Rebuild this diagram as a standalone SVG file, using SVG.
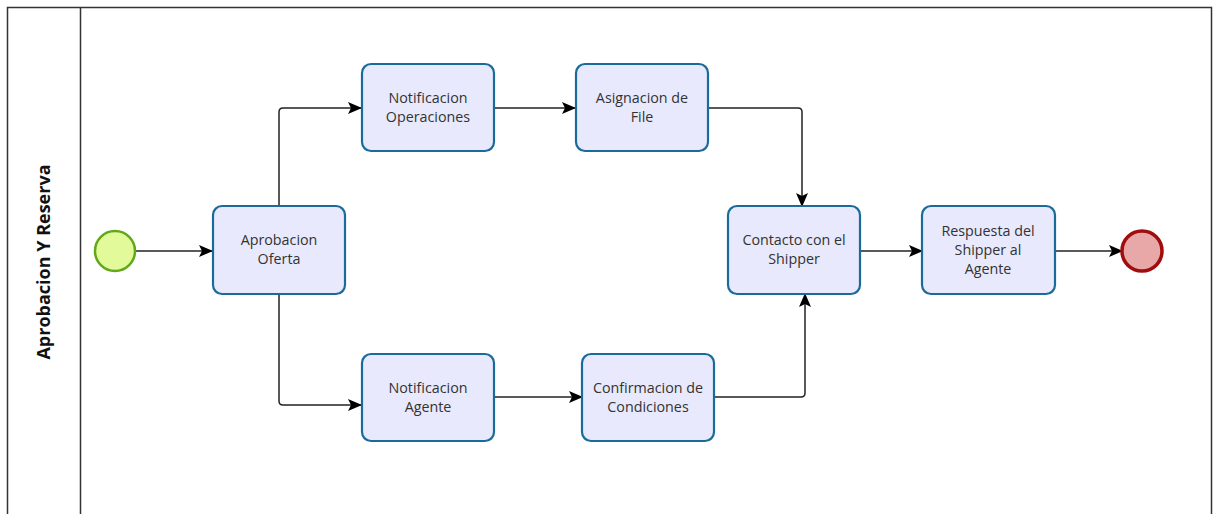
<svg xmlns="http://www.w3.org/2000/svg" width="1216" height="514" viewBox="0 0 1216 514">
  <style>
    .pool { fill: #ffffff; stroke: #333333; stroke-width: 1.5; }
    .task rect { fill: #e8e9fc; stroke: #1a6a9a; stroke-width: 2.2; }
    .task text { font-family: "Open Sans", "Noto Sans", sans-serif; font-size: 14.3px; fill: #333333; text-anchor: middle; }
    .flow { fill: none; stroke: #222222; stroke-width: 1.5; marker-end: url(#arrow); }
    .lane-label { font-family: "Open Sans", "Noto Sans", sans-serif; font-size: 18px; font-weight: bold; fill: #111111; text-anchor: middle; }
  </style>
  <defs>
    <marker id="arrow" viewBox="0 0 14 12" refX="13" refY="6" markerWidth="14" markerHeight="12" markerUnits="userSpaceOnUse" orient="auto">
      <path d="M0,0 L14,6 L0,12 L3,6 Z" fill="#000000"/>
    </marker>
  </defs>

  <!-- pool with lane header -->
  <g id="pool">
    <rect class="pool" x="7.5" y="7.5" width="1204" height="520"/>
    <line x1="80.5" y1="7.5" x2="80.5" y2="514" stroke="#333333" stroke-width="1.5"/>
    <text class="lane-label" transform="translate(50,262) rotate(-90)">Aprobacion Y Reserva</text>
  </g>

  <!-- sequence flows -->
  <g id="connectors">
    <path class="flow" d="M135,251 H212"/>
    <path class="flow" d="M279,206 V112 Q279,108 283,108 H361"/>
    <path class="flow" d="M279,294 V401 Q279,405 283,405 H361"/>
    <path class="flow" d="M494,108 H575"/>
    <path class="flow" d="M708,108 H798 Q802,108 802,112 V206"/>
    <path class="flow" d="M494,397 H582"/>
    <path class="flow" d="M714,397 H801 Q805,397 805,393 V294"/>
    <path class="flow" d="M860,251 H922"/>
    <path class="flow" d="M1055,251 H1122"/>
  </g>

  <g id="start">
    <circle cx="115" cy="251" r="20" fill="#e3fa9a" stroke="#62a81a" stroke-width="2.5"/>
  </g>

  <g id="aprobacion-oferta" class="task">
    <rect x="213" y="206" width="132" height="88" rx="9"/>
    <text x="279" y="245">Aprobacion</text>
    <text x="279" y="264">Oferta</text>
  </g>

  <g id="notificacion-operaciones" class="task">
    <rect x="362" y="64" width="132" height="87" rx="9"/>
    <text x="428" y="103">Notificacion</text>
    <text x="428" y="122">Operaciones</text>
  </g>

  <g id="asignacion-file" class="task">
    <rect x="576" y="64" width="132" height="87" rx="9"/>
    <text x="642" y="103">Asignacion de</text>
    <text x="642" y="122">File</text>
  </g>

  <g id="notificacion-agente" class="task">
    <rect x="362" y="354" width="132" height="87" rx="9"/>
    <text x="428" y="393">Notificacion</text>
    <text x="428" y="412">Agente</text>
  </g>

  <g id="confirmacion-condiciones" class="task">
    <rect x="582" y="354" width="132" height="87" rx="9"/>
    <text x="648" y="393">Confirmacion de</text>
    <text x="648" y="412">Condiciones</text>
  </g>

  <g id="contacto-shipper" class="task">
    <rect x="728" y="206" width="132" height="88" rx="9"/>
    <text x="794" y="245">Contacto con el</text>
    <text x="794" y="264">Shipper</text>
  </g>

  <g id="respuesta-shipper" class="task">
    <rect x="922" y="206" width="133" height="88" rx="9"/>
    <text x="988" y="236">Respuesta del</text>
    <text x="988" y="255">Shipper al</text>
    <text x="988" y="274">Agente</text>
  </g>

  <g id="end">
    <circle cx="1142" cy="251" r="20" fill="#e8a8a8" stroke="#a10d0d" stroke-width="3.5"/>
  </g>
</svg>
